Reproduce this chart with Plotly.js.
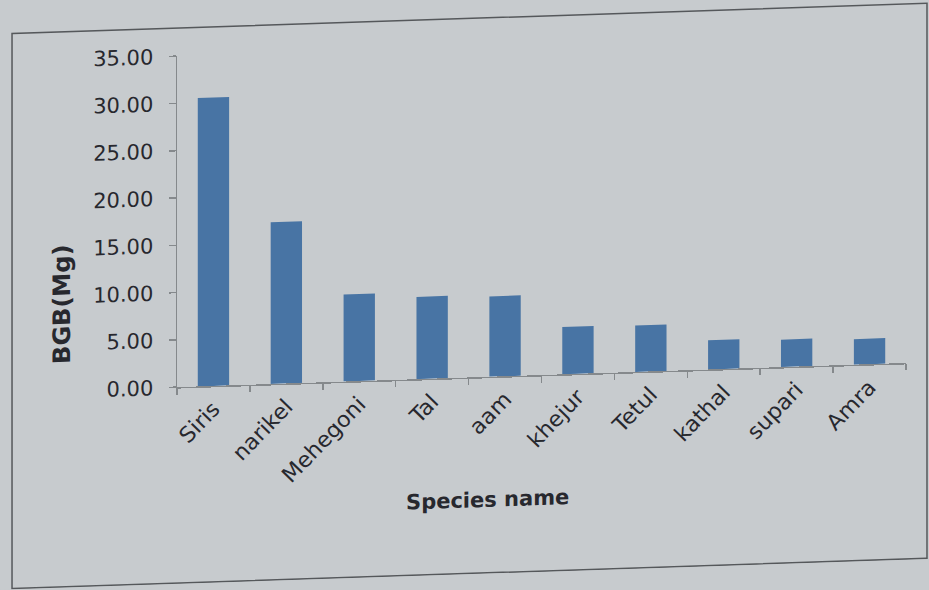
<!DOCTYPE html>
<html>
<head>
<meta charset="utf-8">
<script src="https://cdn.plot.ly/plotly-3.0.1.min.js"></script>
<style>
  html, body { margin: 0; padding: 0; background: #c7cbce; overflow: hidden; }
  #chart { width: 929px; height: 590px; transform: skewY(-1.9deg); transform-origin: 0 0; }
</style>
</head>
<body>
<div id="chart"></div>
<script>
// Below-ground biomass per species
const species = ['Siris', 'narikel', 'Mehegoni', 'Tal', 'aam', 'khejur', 'Tetul', 'kathal', 'supari', 'Amra'];
const bgbMg = [30.5, 17.1, 9.2, 8.7, 8.5, 5.0, 4.9, 3.1, 2.9, 2.7];
const yTicks = [0, 5, 10, 15, 20, 25, 30, 35];

const ink = '#27282e';
const axisGrey = '#85898c';

const trace = {
  type: 'bar',
  x: species,
  y: bgbMg,
  marker: { color: '#4874a4' },
  hoverinfo: 'x+y'
};

const layout = {
  width: 929,
  height: 590,
  margin: { l: 177, r: 23, t: 62, b: 197 },
  paper_bgcolor: '#c7cbce',
  plot_bgcolor: 'rgba(0,0,0,0)',
  bargap: 0.57,
  showlegend: false,
  font: { family: 'DejaVu Sans, sans-serif', color: ink },
  xaxis: {
    type: 'category',
    range: [-0.5, species.length - 0.5],
    showline: true, linecolor: axisGrey, linewidth: 1.5,
    ticks: 'outside', tickson: 'boundaries', ticklen: 6, tickcolor: axisGrey, tickwidth: 1.5,
    tickangle: -45,
    tickfont: { size: 22, color: ink },
    showgrid: false, zeroline: false, automargin: false
  },
  yaxis: {
    range: [0, 35],
    tickvals: yTicks,
    tickformat: '.2f',
    showline: true, linecolor: axisGrey, linewidth: 1.5,
    ticks: 'outside', ticklen: 7, tickcolor: axisGrey, tickwidth: 1.5,
    ticklabelstandoff: 11,
    tickfont: { size: 21, color: ink },
    showgrid: false, zeroline: false, automargin: false
  },
  shapes: [{
    type: 'rect', xref: 'paper', yref: 'paper',
    x0: -0.2263, x1: 1.0288, y0: -0.5921, y1: 1.0846,
    line: { color: '#55585b', width: 1.5 }, fillcolor: 'rgba(0,0,0,0)', layer: 'below'
  }],
  annotations: [
    {
      text: '<b>BGB(Mg)</b>', xref: 'paper', yref: 'paper',
      x: -0.1577, y: 0.26, xanchor: 'center', yanchor: 'middle',
      textangle: -90, showarrow: false,
      font: { size: 24, color: ink }
    },
    {
      text: '<b>Species name</b>', xref: 'paper', yref: 'paper',
      x: 0.4266, y: -0.3716, xanchor: 'center', yanchor: 'middle',
      showarrow: false,
      font: { size: 21, color: ink }
    }
  ]
};

Plotly.newPlot('chart', [trace], layout, { staticPlot: true, displayModeBar: false });
</script>
</body>
</html>
